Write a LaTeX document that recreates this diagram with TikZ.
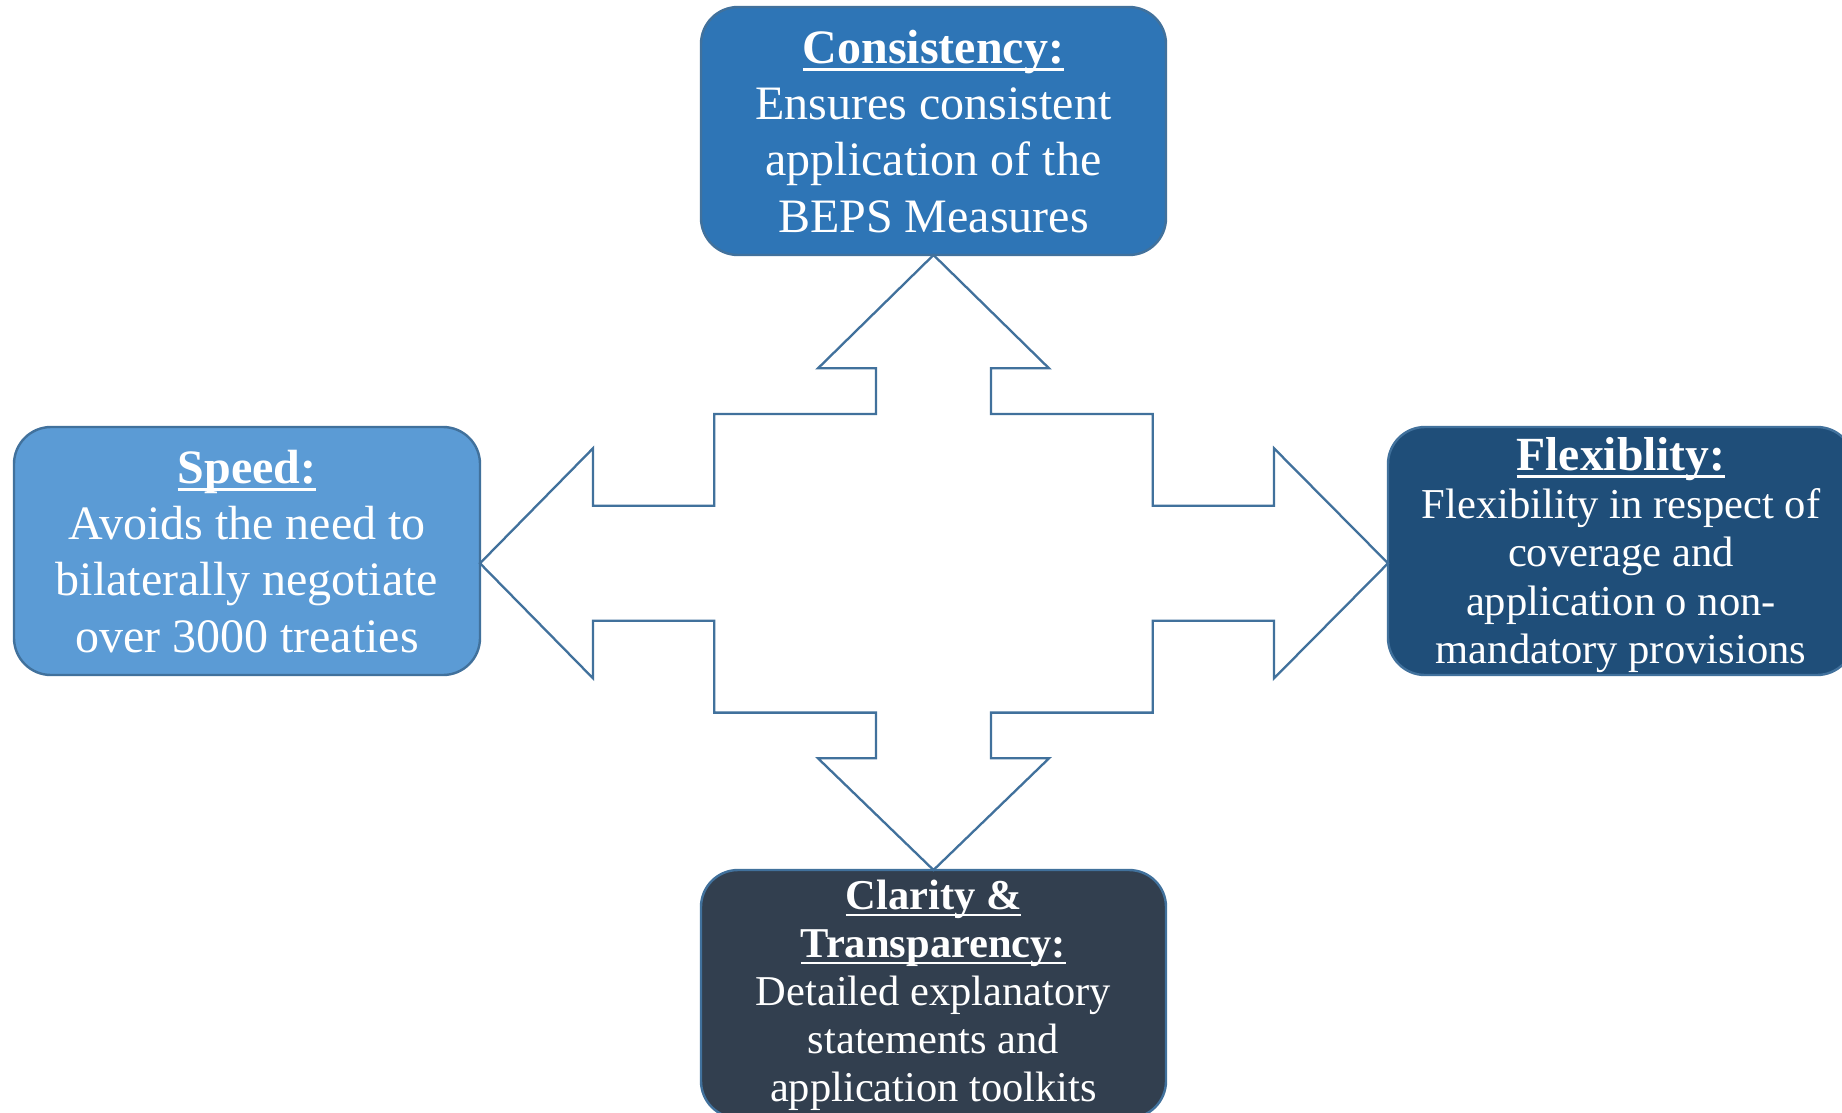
\documentclass[tikz,border=0pt]{standalone}
\usepackage{fontspec}
\setmainfont{Liberation Serif}
\usetikzlibrary{calc}
\definecolor{cTop}{HTML}{2E75B6}
\definecolor{cLeft}{HTML}{5B9BD5}
\definecolor{cRight}{HTML}{1F4E79}
\definecolor{cBot}{HTML}{323F4F}
\definecolor{cLine}{HTML}{41719C}
\newcommand\ulbf[2][7.5pt]{\setbox0\hbox{\bfseries #2}\rlap{\rule[-#1]{\wd0}{2.8pt}}\box0}
\tikzset{
  box/.style={draw=cLine, line width=2.4pt, rounded corners=37pt, minimum width=465pt,
    minimum height=248pt, inner sep=0pt, outer sep=0pt},
  txt/.style={text=white, align=center, inner sep=0pt, anchor=base},
  arrowline/.style={draw=cLine, line width=2.3pt, line join=miter}
}
\begin{document}
\begin{tikzpicture}[x=1pt, y=-1pt]
\useasboundingbox (0,0) rectangle (1842,1112);
\clip (0,0) rectangle (1842,1112);
\fill[white] (0,0) rectangle (1842,1112);
% boxes
\node[box, fill=cTop] (top) at (933.5,131) {};
\node[box, fill=cLeft, minimum width=466pt] (left) at (247,551) {};
\node[box, fill=cRight, minimum width=466pt] (right) at (1621,551) {};
\node[box, fill=cBot] (bottom) at (933.5,994) {};
% centre of the four-way arrow
\coordinate (C) at (933.5,563.3);
\begin{scope}[shift={(C)}]
\draw[arrowline] (C |- top.south)
  -- (115.5,-195) -- (57.5,-195) -- (57.5,-149.3) -- (219.2,-149.3) -- (219.2,-57.5)
  -- (340.5,-57.5) -- (340.5,-115)
  -- (right.west |- C)
  -- (340.5,115) -- (340.5,57.5) -- (219.2,57.5) -- (219.2,149.3) -- (57.5,149.3)
  -- (57.5,195) -- (115.5,195)
  -- (C |- bottom.north)
  -- (-115.5,195) -- (-57.5,195) -- (-57.5,149.3) -- (-219.2,149.3) -- (-219.2,57.5)
  -- (-340.5,57.5) -- (-340.5,115)
  -- (left.east |- C)
  -- (-340.5,-115) -- (-340.5,-57.5) -- (-219.2,-57.5) -- (-219.2,-149.3) -- (-57.5,-149.3)
  -- (-57.5,-195) -- (-115.5,-195) -- cycle;
\end{scope}
% texts (anchor base = baseline of the last line)
\node[txt, font=\fontsize{48}{56.3}\selectfont] (toptext) at (933.5,232)
  {\ulbf{Consistency:}\\Ensures consistent\\application of the\\BEPS Measures};
\node[txt, font=\fontsize{48}{56.3}\selectfont] (lefttext) at (247,652)
  {\ulbf{Speed:}\\Avoids the need to\\bilaterally negotiate\\over 3000 treaties};
\node[txt, font=\fontsize{42.6}{48.3}\selectfont] (righttext) at (1621,663.3)
  {{\fontsize{47.6}{48.3}\selectfont\ulbf{Flexiblity:}}\\Flexibility in respect of\\coverage and\\application o non-\\mandatory provisions};
\node[txt, font=\fontsize{42.5}{48.1}\selectfont] (bottomtext) at (933.5,1101.7)
  {\ulbf[7pt]{Clarity \&}\\\ulbf[7pt]{Transparency:}\\Detailed explanatory\\statements and\\application toolkits};
\end{tikzpicture}
\end{document}
